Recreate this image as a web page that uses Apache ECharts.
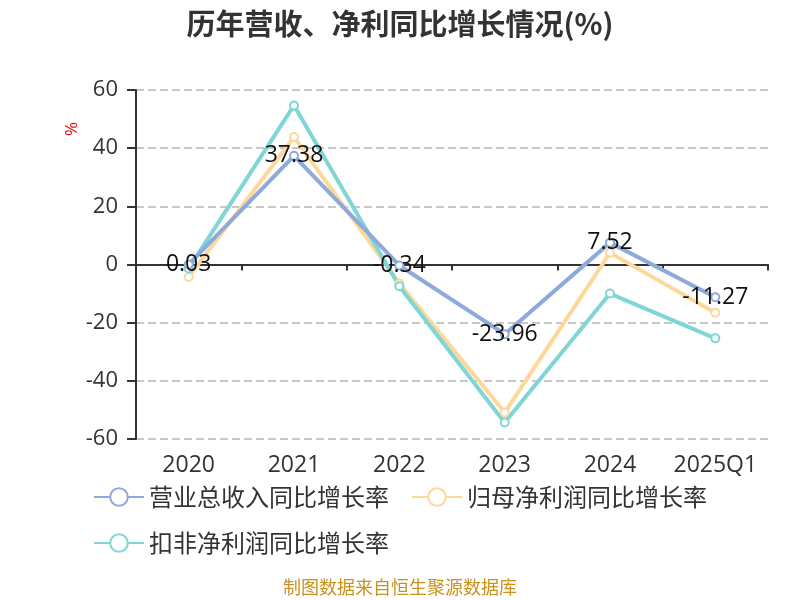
<!DOCTYPE html>
<html><head><meta charset="utf-8">
<script src="https://cdn.jsdelivr.net/npm/echarts@6/dist/echarts.min.js"></script>
<style>html,body{margin:0;padding:0;background:#fff}#c{width:800px;height:600px}</style>
</head><body><div id="c"></div>
<script>
var categories = ['2020', '2021', '2022', '2023', '2024', '2025Q1'];
var revenueGrowth = [0.03, 37.38, -0.34, -23.96, 7.52, -11.27];
var netProfitGrowth = [-4.3, 43.8, -6.5, -50.9, 4.0, -16.6];
var deductedProfitGrowth = [-1.4, 54.7, -7.5, -54.3, -10.0, -25.4];
var seriesNames = ['营业总收入同比增长率', '归母净利润同比增长率', '扣非净利润同比增长率'];
var yTicks = { min: -60, max: 60, interval: 20 };

var font = '"Open Sans","Noto Sans CJK SC",sans-serif';
var cjk = '"Noto Sans CJK SC",sans-serif';
var chart = echarts.init(document.getElementById('c'));
function mk(name, data, color, withLabel) {
  return {
    name: name, type: 'line', data: data, xAxisIndex: 0,
    symbol: 'emptyCircle', symbolSize: 8,
    lineStyle: { color: color, width: 4 },
    itemStyle: { color: color, borderWidth: 2 },
    label: withLabel ? { show: true, position: 'inside', color: '#111', fontSize: 23, fontFamily: font } : { show: false },
    z: withLabel ? 3 : 2
  };
}
chart.setOption({
  animation: false,
  backgroundColor: '#fff',
  title: { text: '历年营收、净利同比增长情况(%)', left: 'center', top: 4,
    textStyle: { fontSize: 29, fontWeight: 'bold', color: '#333', fontFamily: cjk } },
  grid: { left: 136, right: 32, top: 90, bottom: 161, containLabel: false },
  legend: { left: 88, top: 480, width: 680, itemWidth: 50, itemHeight: 22, itemGap: 22,
    textStyle: { fontSize: 24, color: '#333', fontFamily: cjk },
    data: seriesNames },
  xAxis: [
    { type: 'category', data: categories, position: 'bottom', axisLine: { show: false, onZero: false },
      axisTick: { show: false },
      axisLabel: { interval: 0, hideOverlap: false, fontSize: 23, color: '#333', margin: 15, fontFamily: font } },
    { type: 'category', data: categories, position: 'bottom',
      axisLine: { onZero: true, lineStyle: { color: '#333', width: 2 } },
      axisTick: { show: true, interval: 0, length: 6, lineStyle: { color: '#333', width: 2 } }, axisLabel: { show: false } }
  ],
  yAxis: { type: 'value', min: yTicks.min, max: yTicks.max, interval: yTicks.interval,
    axisLine: { show: true, lineStyle: { color: '#333', width: 2 } },
    axisTick: { show: true, length: 9, lineStyle: { color: '#333', width: 2 } },
    axisLabel: { fontSize: 22, color: '#333', margin: 18, fontFamily: font },
    splitLine: { lineStyle: { type: 'dashed', color: '#c8c8c8', width: 2 } } },
  graphic: [
    { type: 'text', left: 64, top: 122, rotation: Math.PI / 2,
      style: { text: '%', fill: '#e00', fontSize: 17, fontFamily: font } },
    { type: 'text', left: 'center', top: 578,
      style: { text: '制图数据来自恒生聚源数据库', fill: '#c8921e', fontSize: 18, fontFamily: cjk } }
  ],
  series: [
    mk(seriesNames[0], revenueGrowth, '#8eaadb', true),
    mk(seriesNames[1], netProfitGrowth, '#fed898', false),
    mk(seriesNames[2], deductedProfitGrowth, '#80d5d7', false)
  ]
});
</script></body></html>
